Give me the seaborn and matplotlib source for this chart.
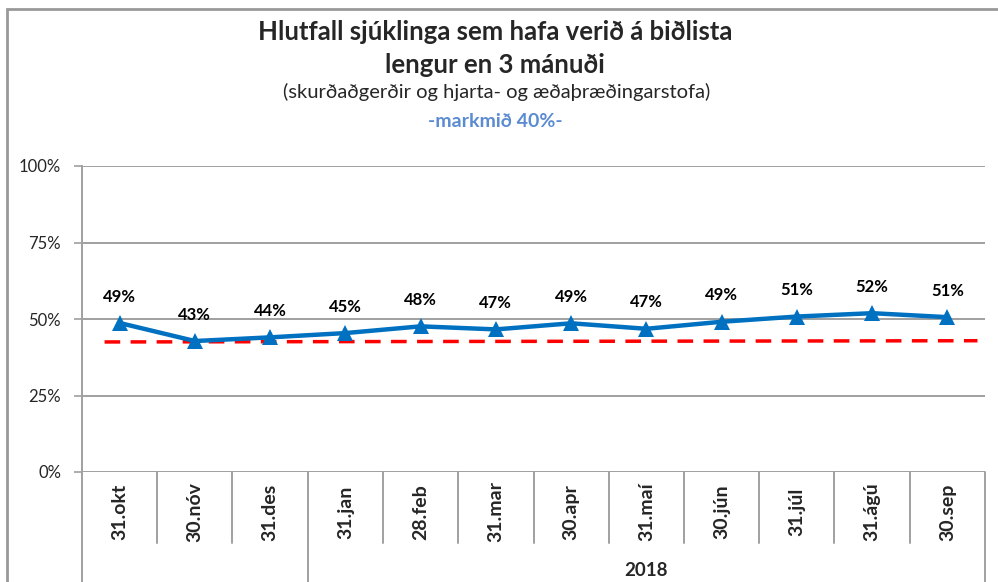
import matplotlib
matplotlib.use("Agg")
import matplotlib.pyplot as plt
import seaborn as sns
import numpy as np
import pandas as pd

# data
categories = ["31.okt", "30.nóv", "31.des", "31.jan", "28.feb", "31.mar",
              "30.apr", "31.maí", "30.jún", "31.júl", "31.ágú", "30.sep"]
values = [48.7, 42.8, 44.0, 45.4, 47.6, 46.6, 48.6, 46.8, 49.1, 50.8, 51.9, 50.6]
target_line = [42.5, 42.9]   # red dashed line, start and end value
group_label = "2018"
group_start = 3              # first category belonging to 2018
y_ticks = [0, 25, 50, 75, 100]

title1 = "Hlutfall sjúklinga sem hafa verið á biðlista"
title2 = "lengur en 3 mánuði"
subtitle = "(skurðaðgerðir og hjarta- og æðaþræðingarstofa)"
goal = "-markmið 40%-"

sns.set_style("white")
plt.rcParams["font.family"] = ["Lato", "DejaVu Sans"]

W, H = 998, 582
fig = plt.figure(figsize=(W / 100, H / 100), dpi=100)
ax = fig.add_axes([82 / W, (H - 472) / H, (985 - 82) / W, (472 - 166) / H])

df = pd.DataFrame({"x": np.arange(len(categories)), "value": values})
n = len(categories)

# red dashed line
ax.plot([-0.2, n - 0.6], target_line, color="#FF0000", lw=2.5,
        dashes=(4.5, 3), zorder=2)

sns.lineplot(data=df, x="x", y="value", ax=ax, color="#0070C0", lw=3.2,
             marker="^", markersize=12, markeredgewidth=0, zorder=3)

for x, v in zip(df["x"], df["value"]):
    ax.annotate(f"{v:.0f}%", (x, v), xytext=(0, 19), textcoords="offset points",
                ha="center", va="center", fontsize=12, fontweight="bold",
                color="black")

ax.set_xlim(-0.5, n - 0.5)
ax.set_ylim(0, 100)
ax.set_yticks(y_ticks)
ax.set_yticklabels([f"{t}%" for t in y_ticks], fontsize=12)
ax.set_xticks([])
ax.set_xlabel("")
ax.set_ylabel("")
ax.yaxis.grid(True, color="#A0A0A0", lw=1.4)
ax.set_axisbelow(True)
ax.tick_params(axis="y", length=6, width=1.2, color="#A0A0A0", pad=9, left=True)
for s in ["top", "right", "bottom"]:
    ax.spines[s].set_visible(False)
ax.spines["left"].set_color("#A0A0A0")
ax.spines["left"].set_linewidth(1.4)

# category table below the axis
trans = ax.get_xaxis_transform()
cell_bottom = -(543 - 472) / 306
fig_bottom = -(H - 472) / 306 - 0.01
line_kw = dict(color="#A0A0A0", lw=1.4, transform=trans, clip_on=False)
for i in range(1, n):
    bottom = fig_bottom if i == group_start else cell_bottom
    ax.plot([i - 0.5, i - 0.5], [0, bottom], **line_kw)
ax.plot([-0.5, -0.5], [0, fig_bottom], **line_kw)
ax.plot([n - 0.5, n - 0.5], [0, fig_bottom], **line_kw)

for i, c in enumerate(categories):
    ax.text(i, -(512 - 472) / 306, c, transform=trans, rotation=90,
            ha="center", va="center", fontsize=14, fontweight="bold")
ax.text((group_start - 0.5 + n - 0.5) / 2, -(570 - 472) / 306, group_label,
        transform=trans, ha="center", va="center", fontsize=13.5,
        fontweight="bold")

# titles
fig.text(495 / W, 1 - 40 / H, title1, ha="center", va="baseline",
         fontsize=18.5, fontweight="bold")
fig.text(495 / W, 1 - 73 / H, title2, ha="center", va="baseline",
         fontsize=18.5, fontweight="bold")
fig.text(497 / W, 1 - 98 / H, subtitle, ha="center", va="baseline",
         fontsize=14.5)
fig.text(495 / W, 1 - 127 / H, goal, ha="center", va="baseline",
         fontsize=14, fontweight="bold", color="#5B8BD0")

# chart area border
fig.add_artist(plt.Rectangle((7 / W, -0.05), 1.0, 1 - 9 / H + 0.05,
                             transform=fig.transFigure, fill=False,
                             edgecolor="#999999", lw=2))

fig.savefig("out.png", dpi=100)
